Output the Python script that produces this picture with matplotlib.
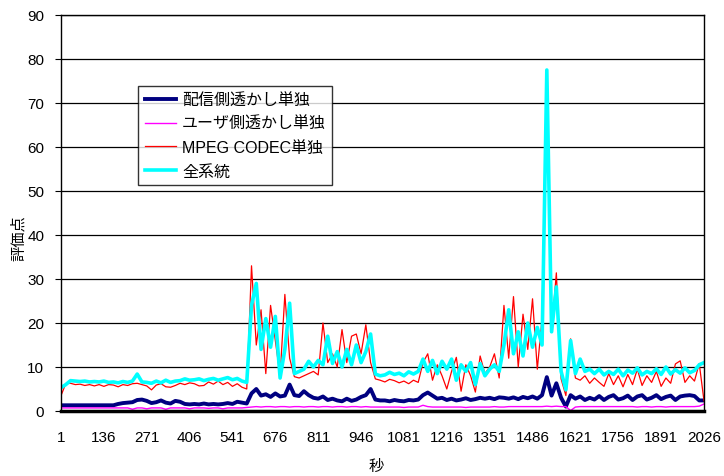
import numpy as np
import matplotlib
matplotlib.use("Agg")
import matplotlib.pyplot as plt

plt.rcParams['font.family'] = ['Liberation Sans', 'Noto Sans CJK JP', 'DejaVu Sans']

# 時間軸 (秒) : 15秒ごとに読み取った値
t = np.arange(1, 2027, 15)

# 配信側透かし単独
haishin = [1.3, 1.3, 1.3, 1.3, 1.3, 1.3, 1.3, 1.3, 1.3, 1.3,
           1.3, 1.3, 1.6, 1.8, 1.9, 2.0, 2.5, 2.6, 2.3, 1.8,
           2.0, 2.4, 1.9, 1.7, 2.3, 2.1, 1.6, 1.5, 1.6, 1.5,
           1.7, 1.5, 1.6, 1.5, 1.6, 1.8, 1.6, 2.1, 1.9, 1.7,
           4.0, 5.0, 3.5, 3.8, 3.2, 4.0, 3.3, 3.5, 6.0, 3.6,
           3.4, 4.5, 3.6, 3.0, 2.8, 3.3, 2.5, 2.8, 2.4, 2.2,
           2.8, 2.3, 2.6, 3.2, 3.6, 5.0, 2.6, 2.4, 2.4, 2.2,
           2.5, 2.3, 2.2, 2.5, 2.4, 2.6, 3.6, 4.2, 3.5, 2.8,
           3.0, 2.5, 2.8, 2.4, 2.6, 2.9, 2.5, 2.7, 3.0, 2.8,
           3.0, 2.7, 3.1, 3.0, 2.8, 3.1, 2.7, 3.2, 2.9, 3.3,
           2.8, 3.6, 7.7, 3.5, 6.3, 3.0, 1.0, 3.6, 2.8, 3.3,
           2.5, 3.0, 2.6, 3.4, 2.5, 3.2, 3.6, 2.6, 2.9, 3.5,
           2.5, 3.3, 3.6, 2.6, 3.0, 3.6, 2.7, 3.2, 3.5, 2.5,
           3.3, 3.5, 3.6, 3.4, 2.4, 2.4]

# ユーザ側透かし単独
user = [0.7, 0.7, 0.7, 0.7, 0.7, 0.7, 0.7, 0.7, 0.7, 0.7,
        0.7, 0.7, 0.7, 0.7, 0.7, 0.4, 0.7, 0.7, 0.5, 0.7,
        0.7, 0.7, 0.4, 0.7, 0.7, 0.7, 0.7, 0.5, 0.7, 0.7,
        0.7, 0.6, 0.7, 0.7, 0.5, 0.7, 0.7, 0.7, 0.7, 0.8,
        0.9, 1.0, 0.9, 1.0, 1.0, 0.9, 1.0, 1.0, 0.9, 1.0,
        1.0, 0.9, 1.0, 1.0, 0.9, 1.0, 1.0, 0.9, 1.0, 1.0,
        0.9, 1.0, 1.0, 0.9, 1.0, 0.9, 0.9, 0.9, 0.9, 0.9,
        0.9, 0.9, 0.8, 0.9, 0.9, 0.9, 1.3, 1.0, 0.9, 0.9,
        0.9, 0.9, 0.9, 0.9, 0.9, 0.8, 0.9, 0.9, 0.9, 0.9,
        0.9, 1.0, 0.9, 0.9, 1.0, 1.0, 1.0, 1.0, 1.0, 1.0,
        1.0, 1.0, 1.1, 1.0, 1.1, 1.0, 1.0, 0.1, 0.9, 1.0,
        1.0, 1.0, 1.0, 1.0, 1.0, 1.0, 1.0, 1.0, 1.0, 1.0,
        1.0, 0.9, 1.0, 1.0, 0.9, 1.0, 1.0, 0.9, 1.0, 1.0,
        1.0, 1.0, 1.0, 1.0, 1.1, 1.6]

# MPEG CODEC単独
mpeg = [3.5, 6.2, 6.3, 6.0, 6.1, 5.8, 6.0, 5.7, 6.0, 5.6,
        6.0, 5.9, 5.5, 6.0, 5.8, 6.2, 6.3, 6.0, 5.7, 4.8,
        5.9, 6.2, 5.5, 5.4, 5.8, 6.3, 6.0, 6.4, 6.2, 5.7,
        5.8, 6.6, 6.1, 6.8, 6.0, 6.5, 5.6, 6.2, 5.4, 5.0,
        33.0, 15.0, 23.0, 8.5, 24.0, 16.0, 8.0, 26.5, 12.0, 7.8,
        7.5, 8.0, 8.5, 9.0, 8.2, 20.0, 11.0, 13.0, 10.0, 18.5,
        11.0, 17.0, 17.5, 13.0, 19.6, 11.0, 7.3, 7.0, 6.6, 7.2,
        6.9, 6.4, 6.8, 6.2, 7.0, 6.5, 11.0, 13.0, 7.0, 10.5,
        8.0, 5.0, 9.0, 12.2, 4.5, 10.5, 8.0, 4.3, 12.5, 8.5,
        10.0, 13.0, 7.5, 24.0, 12.0, 26.0, 10.0, 22.0, 14.0, 25.5,
        9.5, 21.0, 77.0, 18.0, 31.4, 7.3, 3.5, 16.4, 7.5, 7.0,
        8.0, 6.3, 7.5, 6.5, 5.6, 8.5, 6.0, 8.0, 5.5, 8.3,
        6.0, 9.5, 5.8, 8.0, 6.5, 9.0, 5.6, 7.5, 6.3, 10.7,
        11.4, 6.5, 8.0, 6.8, 10.8, 2.3]

# 全系統
zenkei = [5.3, 6.0, 6.9, 6.8, 6.7, 6.8, 6.6, 6.7, 6.6, 6.8,
          6.5, 6.6, 6.4, 6.7, 6.5, 6.8, 8.4, 6.6, 6.5, 6.3,
          6.8, 6.4, 7.0, 6.5, 6.8, 6.9, 7.3, 7.0, 7.1, 7.3,
          6.9, 7.2, 7.4, 7.0, 7.3, 7.6, 7.1, 7.4, 6.8, 6.5,
          24.0, 29.0, 14.0, 21.0, 14.5, 21.5, 7.5, 14.0, 24.5, 8.5,
          9.0, 9.5, 11.3, 10.0, 11.5, 10.5, 17.0, 10.8, 13.5, 10.0,
          14.0, 10.5, 15.0, 11.0, 13.5, 17.5, 8.4, 8.0, 8.2, 8.8,
          8.3, 8.6, 8.0, 8.9, 8.4, 9.0, 11.8, 9.0, 11.5, 8.5,
          11.3, 9.5, 11.8, 7.0, 10.5, 9.0, 11.0, 6.0, 10.8, 8.0,
          9.5, 10.5, 9.0, 15.0, 23.0, 13.0, 18.0, 12.5, 20.0, 14.5,
          19.0, 15.0, 77.5, 18.0, 28.2, 9.0, 4.8, 16.0, 8.5, 11.8,
          9.0, 9.5, 8.5, 9.5, 8.2, 9.0, 8.3, 9.5, 8.0, 9.3,
          8.6, 9.8, 8.2, 9.0, 8.5, 9.6, 8.3, 10.0, 8.4, 9.4,
          8.6, 9.8, 8.7, 9.2, 10.5, 11.0]

xticks = np.arange(1, 2027, 135)

fig = plt.figure(figsize=(7.24, 4.77), dpi=100)
ax = fig.add_axes([61/724, 65/477, 643/724, 396/477])

ax.plot(t, haishin, color='#000080', linewidth=2.8, label='配信側透かし単独')
ax.plot(t, user, color='#FF00FF', linewidth=1.0, label='ユーザ側透かし単独')
ax.plot(t, mpeg, color='#FF0000', linewidth=0.9, label='MPEG CODEC単独')
ax.plot(t, zenkei, color='#00FFFF', linewidth=2.6, label='全系統')

ax.set_xlim(1, 2026)
ax.set_ylim(0, 90)
ax.set_yticks(np.arange(0, 91, 10))
ax.set_xticks(xticks)
ax.set_xticklabels([str(v) for v in xticks])
ax.yaxis.grid(True, color='black', linewidth=0.9)
ax.set_axisbelow(True)
for s in ['left', 'right', 'top']:
    ax.spines[s].set_color('black')
    ax.spines[s].set_linewidth(1.0)
ax.spines['bottom'].set_linewidth(2.5)
ax.tick_params(axis='x', length=0, pad=14, labelsize=11)
ax.tick_params(axis='y', length=4, pad=8, labelsize=11)

ax.set_ylabel('評価点', fontsize=11)
ax.yaxis.set_label_coords(-0.054, 0.44)
ax.set_xlabel('秒', fontsize=11)
ax.xaxis.set_label_coords(0.49, -0.122)

leg = ax.legend(loc='upper left', bbox_to_anchor=(0.12, 0.821), borderaxespad=0,
                fontsize=11.5, frameon=True, fancybox=False, handlelength=2.0,
                labelspacing=0.55, borderpad=0.4, handletextpad=0.35)
leg.get_frame().set_edgecolor('black')
leg.get_frame().set_linewidth(1.0)

fig.savefig('out.png', dpi=100)
